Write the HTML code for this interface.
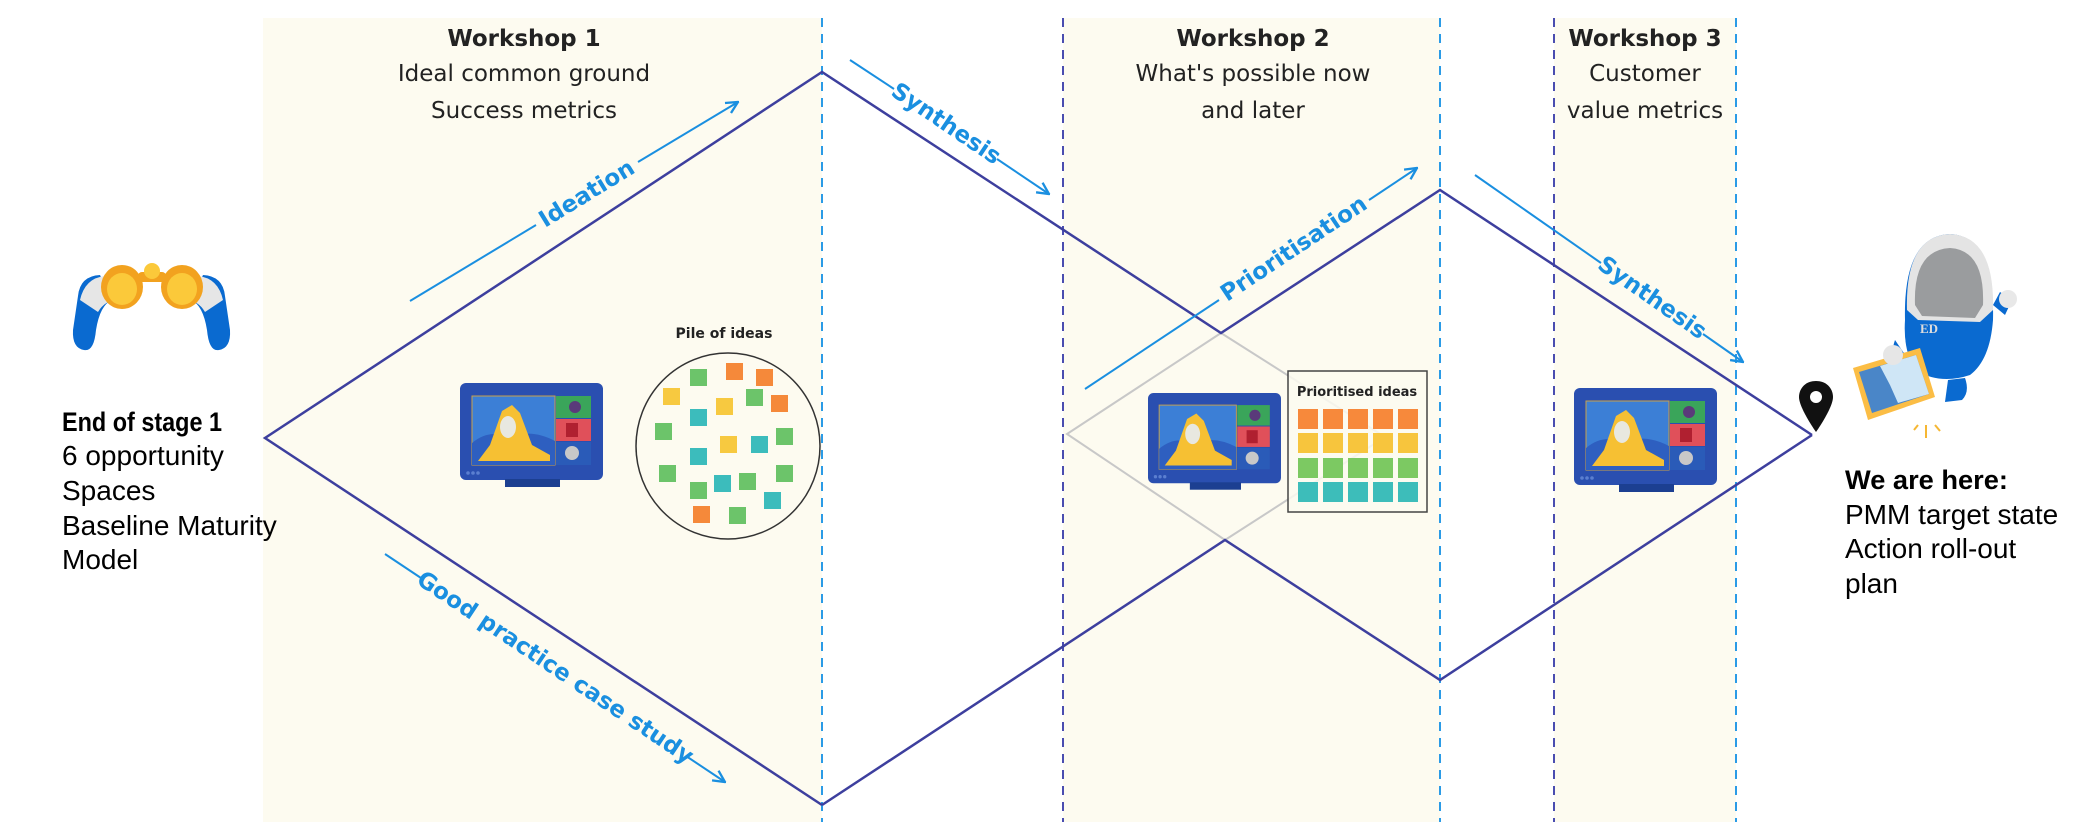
<!DOCTYPE html>
<html><head><meta charset="utf-8"><style>
html,body{margin:0;padding:0;background:#fff;}
svg{display:block;}
</style></head><body>
<svg width="2074" height="822" viewBox="0 0 2074 822" xmlns="http://www.w3.org/2000/svg" font-family="'Liberation Sans', sans-serif">
<defs>
<marker id="ah" viewBox="0 0 12 12" refX="11" refY="6" markerWidth="14" markerHeight="14" orient="auto" markerUnits="userSpaceOnUse">
<path d="M1,1 L11,6 L1,11" fill="none" stroke="#1a8fe0" stroke-width="2"/></marker>
<g id="mon">
<rect x="0" y="0" width="143" height="97" rx="6" fill="#2a4fb0"/>
<rect x="45" y="96" width="55" height="8" fill="#1c3f91"/>
<rect x="12" y="13" width="83" height="69" fill="#3c7fd6" stroke="#c9a24a" stroke-width="1"/>
<path d="M12 60 Q30 45 50 55 Q70 45 95 58 L95 82 L12 82Z" fill="#2e5fc0"/>
<polygon points="18,78 30,62 42,28 52,22 60,30 72,62 90,72 90,78" fill="#f6c033"/>
<ellipse cx="48" cy="44" rx="8" ry="11" fill="#e8e8e0"/>
<rect x="96" y="13" width="35" height="22" fill="#3aa55a"/>
<circle cx="115" cy="24" r="6" fill="#5a3a7a"/>
<rect x="96" y="36" width="35" height="22" fill="#e0505a"/>
<rect x="106" y="40" width="12" height="14" fill="#b02030"/>
<rect x="96" y="59" width="35" height="23" fill="#2a5bb8"/>
<circle cx="112" cy="70" r="7" fill="#c8c8c8"/>
<circle cx="8" cy="90" r="1.8" fill="#5b7fd0"/><circle cx="13" cy="90" r="1.8" fill="#5b7fd0"/><circle cx="18" cy="90" r="1.8" fill="#5b7fd0"/>
</g>
</defs>

<rect x="263" y="18" width="559" height="804" fill="#fdfbf0"/>
<rect x="1063" y="18" width="377" height="804" fill="#fdfbf0"/>
<rect x="1554" y="18" width="182" height="804" fill="#fdfbf0"/>

<g stroke-width="2" stroke-dasharray="9,7">
<line x1="822" y1="18" x2="822" y2="822" stroke="#2b9be6"/>
<line x1="1063" y1="18" x2="1063" y2="822" stroke="#4a4db0"/>
<line x1="1440" y1="18" x2="1440" y2="822" stroke="#2b9be6"/>
<line x1="1554" y1="18" x2="1554" y2="822" stroke="#4a4db0"/>
<line x1="1736" y1="18" x2="1736" y2="822" stroke="#2b9be6"/>
</g>

<polygon points="1067,434 1221,333 1385,437 1225,540" fill="none" stroke="#c8c8c8" stroke-width="2"/>

<g fill="none" stroke="#3d3f9e" stroke-width="2.5">
<polyline points="822,805 265,438 822,72 1221,333 1440,190 1812,435"/>
<polyline points="822,805 1225,540 1440,680 1812,435"/>
</g>

<g stroke="#1a8fe0" stroke-width="2" fill="none">
<line x1="410" y1="301" x2="536" y2="225"/>
<line x1="638" y1="162" x2="738" y2="102" marker-end="url(#ah)"/>
<line x1="850" y1="60" x2="894" y2="89"/>
<line x1="997" y1="159" x2="1049" y2="194" marker-end="url(#ah)"/>
<line x1="385" y1="554" x2="424" y2="580"/>
<line x1="686" y1="756" x2="725" y2="782" marker-end="url(#ah)"/>
<line x1="1085" y1="389" x2="1219" y2="300"/>
<line x1="1369" y1="200" x2="1417" y2="168" marker-end="url(#ah)"/>
<line x1="1475" y1="175" x2="1601" y2="263"/>
<line x1="1703" y1="334" x2="1743" y2="362" marker-end="url(#ah)"/>
</g>
<g fill="#1a8fe0" font-weight="bold" font-size="23" text-anchor="middle" dominant-baseline="central" font-family="'DejaVu Sans', sans-serif">
<text transform="translate(587,194) rotate(-31.5)">Ideation</text>
<text transform="translate(946,124) rotate(34)">Synthesis</text>
<text transform="translate(555,668) rotate(33.8)">Good practice case study</text>
<text transform="translate(1294,249) rotate(-33.7)">Prioritisation</text>
<text transform="translate(1652,298) rotate(34.9)">Synthesis</text>
</g>

<g text-anchor="middle" fill="#222" font-size="23" font-family="'DejaVu Sans', sans-serif">
<text x="524" y="46" font-weight="bold">Workshop 1</text>
<text x="524" y="81">Ideal common ground</text>
<text x="524" y="118">Success metrics</text>
<text x="1253" y="46" font-weight="bold">Workshop 2</text>
<text x="1253" y="81">What's possible now</text>
<text x="1253" y="118">and later</text>
<text x="1645" y="46" font-weight="bold">Workshop 3</text>
<text x="1645" y="81">Customer</text>
<text x="1645" y="118">value metrics</text>
</g>

<g fill="#000" font-size="28" font-family="'Liberation Sans', sans-serif">
<text x="62" y="431" font-weight="bold" font-size="27" textLength="160" lengthAdjust="spacingAndGlyphs">End of stage 1</text>
<text x="62" y="465">6 opportunity</text>
<text x="62" y="500">Spaces</text>
<text x="62" y="535">Baseline Maturity</text>
<text x="62" y="569">Model</text>
<text x="1845" y="489" font-weight="bold" font-size="27" textLength="163" lengthAdjust="spacingAndGlyphs">We are here:</text>
<text x="1845" y="524">PMM target state</text>
<text x="1845" y="558">Action roll-out</text>
<text x="1845" y="593">plan</text>
</g>

<g>
<path d="M78,296 Q80,276 100,275 L112,300 Q100,305 96,330 Q94,352 84,350 Q72,348 73,330 Z" fill="#0a6ad0"/>
<path d="M225,296 Q223,276 203,275 L191,300 Q203,305 207,330 Q209,352 219,350 Q231,348 230,330 Z" fill="#0a6ad0"/>
<path d="M80,300 Q85,278 105,276 L118,300 Q105,300 98,312 Z" fill="#e6e6e6"/>
<path d="M223,300 Q218,278 198,276 L185,300 Q198,300 205,312 Z" fill="#e6e6e6"/>
<ellipse cx="122" cy="287" rx="21" ry="22" fill="#f2a21f"/>
<ellipse cx="182" cy="287" rx="21" ry="22" fill="#f2a21f"/>
<ellipse cx="122" cy="289" rx="15" ry="16" fill="#fbc93a"/>
<ellipse cx="182" cy="289" rx="15" ry="16" fill="#fbc93a"/>
<rect x="138" y="272" width="28" height="10" rx="4" fill="#f2a21f"/>
<circle cx="152" cy="271" r="8" fill="#fbc93a"/>
</g>

<use href="#mon" transform="translate(460,383)"/>
<use href="#mon" transform="translate(1148,393) scale(0.93)"/>
<use href="#mon" transform="translate(1574,388)"/>

<text x="724" y="338" text-anchor="middle" font-size="14" font-weight="bold" fill="#222" font-family="'DejaVu Sans', sans-serif">Pile of ideas</text>
<ellipse cx="728" cy="446" rx="92" ry="93" fill="none" stroke="#333" stroke-width="1.5"/>
<g>
<rect x="690" y="369" width="17" height="17" fill="#6cc46a"/>
<rect x="726" y="363" width="17" height="17" fill="#f5893a"/>
<rect x="756" y="369" width="17" height="17" fill="#f5893a"/>
<rect x="663" y="388" width="17" height="17" fill="#f7c940"/>
<rect x="746" y="389" width="17" height="17" fill="#6cc46a"/>
<rect x="771" y="395" width="17" height="17" fill="#f5893a"/>
<rect x="716" y="398" width="17" height="17" fill="#f7c940"/>
<rect x="690" y="409" width="17" height="17" fill="#3cbcbc"/>
<rect x="655" y="423" width="17" height="17" fill="#6cc46a"/>
<rect x="776" y="428" width="17" height="17" fill="#6cc46a"/>
<rect x="720" y="436" width="17" height="17" fill="#f7c940"/>
<rect x="751" y="436" width="17" height="17" fill="#3cbcbc"/>
<rect x="690" y="448" width="17" height="17" fill="#3cbcbc"/>
<rect x="659" y="465" width="17" height="17" fill="#6cc46a"/>
<rect x="776" y="465" width="17" height="17" fill="#6cc46a"/>
<rect x="714" y="475" width="17" height="17" fill="#3cbcbc"/>
<rect x="739" y="473" width="17" height="17" fill="#6cc46a"/>
<rect x="690" y="482" width="17" height="17" fill="#6cc46a"/>
<rect x="764" y="492" width="17" height="17" fill="#3cbcbc"/>
<rect x="693" y="506" width="17" height="17" fill="#f5893a"/>
<rect x="729" y="507" width="17" height="17" fill="#6cc46a"/>
</g>

<rect x="1288" y="371" width="139" height="141" fill="#fcfaf0" fill-opacity="0.85" stroke="#444" stroke-width="1.5"/>
<text x="1357" y="396" text-anchor="middle" font-size="13" font-weight="bold" fill="#222" font-family="'DejaVu Sans', sans-serif">Prioritised ideas</text>
<g>
<g fill="#f7893b"><rect x="1298" y="409" width="20" height="20"/><rect x="1323" y="409" width="20" height="20"/><rect x="1348" y="409" width="20" height="20"/><rect x="1373" y="409" width="20" height="20"/><rect x="1398" y="409" width="20" height="20"/></g>
<g fill="#f7c53d"><rect x="1298" y="433" width="20" height="20"/><rect x="1323" y="433" width="20" height="20"/><rect x="1348" y="433" width="20" height="20"/><rect x="1373" y="433" width="20" height="20"/><rect x="1398" y="433" width="20" height="20"/></g>
<g fill="#7cc962"><rect x="1298" y="458" width="20" height="20"/><rect x="1323" y="458" width="20" height="20"/><rect x="1348" y="458" width="20" height="20"/><rect x="1373" y="458" width="20" height="20"/><rect x="1398" y="458" width="20" height="20"/></g>
<g fill="#3dbdba"><rect x="1298" y="482" width="20" height="20"/><rect x="1323" y="482" width="20" height="20"/><rect x="1348" y="482" width="20" height="20"/><rect x="1373" y="482" width="20" height="20"/><rect x="1398" y="482" width="20" height="20"/></g>
</g>

<path d="M1816,381 C1804,381 1799,390 1799,397 C1799,408 1816,432 1816,432 C1816,432 1833,408 1833,397 C1833,390 1828,381 1816,381 Z" fill="#111"/>
<circle cx="1816" cy="397" r="6" fill="#fff"/>

<g>
<path d="M1905,320 Q1903,236 1950,234 Q1995,236 1993,320 Q1990,360 1970,375 Q1940,385 1915,370 Q1903,350 1905,320Z" fill="#0a6ad0"/>
<path d="M1907,310 Q1905,236 1950,234 Q1995,236 1993,310 L1980,322 L1918,320 Z" fill="#e4e4e4"/>
<path d="M1915,305 Q1913,250 1950,248 Q1985,250 1983,305 L1975,318 L1922,316Z" fill="#9a9c9e"/>
<path d="M1993,305 L2005,315 L2012,300 L2000,292 Z" fill="#0a6ad0"/>
<circle cx="2008" cy="299" r="9" fill="#e8e8e8"/>
<text x="1920" y="333" font-size="13" font-weight="bold" fill="#ddd" font-family="'Liberation Serif', serif">ED</text>
<path d="M1895,340 Q1888,360 1900,375 L1912,365 Z" fill="#0a6ad0"/>
<path d="M1948,380 L1965,378 Q1970,392 1962,400 L1945,402 Z" fill="#0a6ad0"/>
<polygon points="1853,368 1920,348 1935,397 1868,420" fill="#fbbd45"/>
<polygon points="1859,372 1916,355 1929,394 1872,413" fill="#4a86c8"/>
<polygon points="1880,366 1916,355 1929,394 1898,403 1890,385" fill="#cfe6f6"/>
<circle cx="1893" cy="355" r="10" fill="#e6e6e6"/>
<g stroke="#f6b733" stroke-width="2"><line x1="1914" y1="430" x2="1918" y2="425"/><line x1="1926" y1="425" x2="1926" y2="438"/><line x1="1935" y1="425" x2="1940" y2="431"/></g>
</g>
</svg>
</body></html>
